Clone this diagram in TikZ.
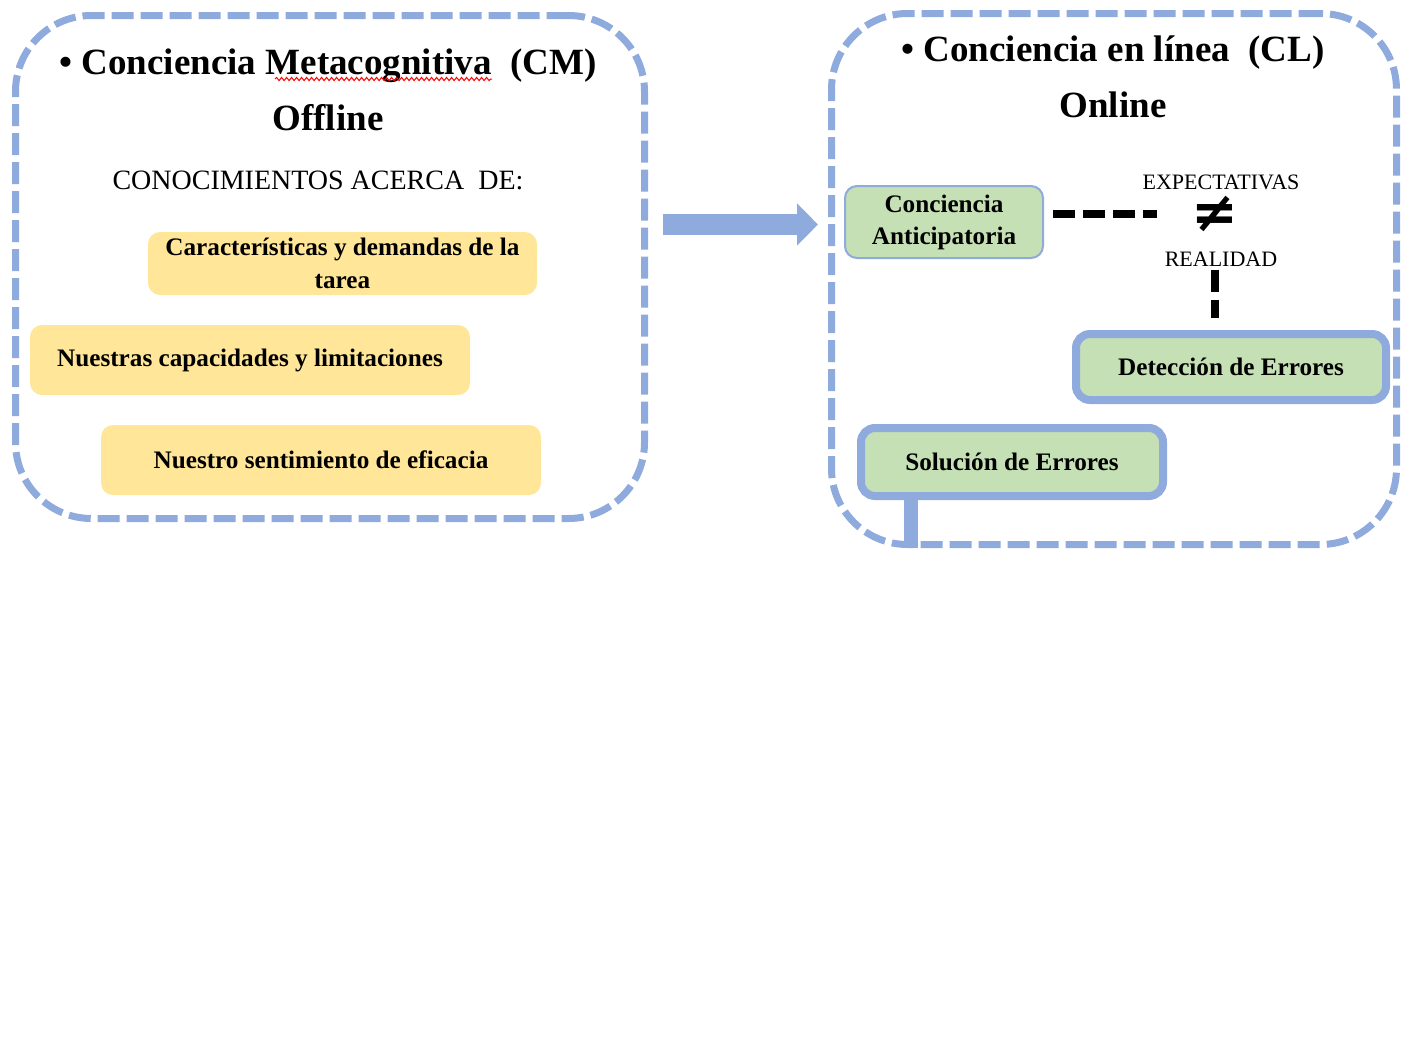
\documentclass[tikz,border=0pt]{standalone}
\usepackage{fontspec}
\setmainfont{Liberation Serif}
\newfontfamily\symbolFont{DejaVu Sans}
\usetikzlibrary{arrows.meta,decorations.pathmorphing}
\definecolor{boxBlue}{HTML}{8FAADC}
\definecolor{noteYellow}{HTML}{FFE699}
\definecolor{stageGreen}{HTML}{C5E0B4}
\newcommand{\titleFont}{\fontsize{18.5}{28}\selectfont\bfseries}
\newcommand{\boxFont}{\fontsize{12.6}{16.5}\selectfont\bfseries}
\newcommand{\capsFont}{\fontsize{14}{16}\selectfont}
\newcommand{\tagFont}{\fontsize{11}{12}\selectfont}
\newcommand{\frameLineWidth}{3.5pt}
\newcommand{\gapLineWidth}{4pt}

\begin{document}
\begin{tikzpicture}[x=0.5pt, y=-0.5pt,
  frame/.style={draw=boxBlue, line width=\frameLineWidth, dash pattern=on 11pt off 3.5pt,
    rounded corners=38pt, inner sep=0pt},
  note/.style={fill=noteYellow, rounded corners=6pt, font=\boxFont, align=center, inner sep=0pt},
  stage/.style={fill=stageGreen, draw=boxBlue, line width=4pt, rounded corners=7pt,
    font=\boxFont, align=center, inner sep=0pt},
  tag/.style={font=\tagFont, inner sep=0pt},
  gap/.style={draw=black, line width=\gapLineWidth, dash pattern=on 11pt off 4pt}]
\useasboundingbox (0,0) rectangle (1414,1044);

% offline side
\node[frame, minimum width=314.5pt, minimum height=251.5pt] (cm) at (330,267) {};
\node[font=\titleFont, align=center] (cmtitle) at (328,90)
  {\textbullet~Conciencia Metacognitiva~~(CM)\\Offline};
\draw[red, line width=0.5pt, decorate, decoration={snake, amplitude=0.8pt, segment length=2.5pt}]
  (275,79) -- (492,79);
\node[font=\capsFont] (acerca) at (318,180) {CONOCIMIENTOS ACERCA~~DE:};
\node[note, minimum width=194.5pt, minimum height=31.5pt] (tarea) at (342.5,263.5)
  {Características y demandas de la\\tarea};
\node[note, minimum width=220pt, minimum height=35pt] (capacidades) at (250,360)
  {Nuestras capacidades y limitaciones};
\node[note, minimum width=220pt, minimum height=35pt] (eficacia) at (321,460)
  {Nuestro sentimiento de eficacia};

% online side
\node[frame, minimum width=282.5pt, minimum height=265.5pt] (cl) at (1114,279) {};
\node[font=\titleFont, align=center] (cltitle) at (1113,77)
  {\textbullet~Conciencia en línea~~(CL)\\Online};
\node[stage, line width=1pt, rounded corners=6pt, minimum width=99pt, minimum height=36pt,
  font=\fontsize{12.6}{16}\selectfont\bfseries] (antic) at (944,222)
  {Conciencia\\Anticipatoria};
\node[tag] (expect) at (1221,182) {EXPECTATIVAS};
\node[font=\symbolFont\fontsize{28}{28}\selectfont\bfseries, inner sep=0pt] (neq) at (1215,214) {≠};
\node[tag] (realidad) at (1221,259) {REALIDAD};
\node[stage, minimum width=155pt, minimum height=33pt] (deteccion) at (1231,367)
  {Detección de Errores};
\node[stage, minimum width=151pt, minimum height=34pt] (solucion) at (1012,462)
  {Solución de Errores};

\coordinate (arrowStart) at (663,224.5);
\coordinate (arrowEnd) at (818,224.5);
\draw[-{Triangle[length=10.5pt,width=20.5pt]}, boxBlue, line width=10.5pt] (arrowStart) -- (arrowEnd);

\draw[gap, shorten <=4.5pt, shorten >=17pt] (neq.west -| antic.east) -- (neq.west);
\draw[gap, shorten <=1.5pt, shorten >=6pt] (neq |- realidad.south) -- (neq |- deteccion.north);
\draw[boxBlue, line width=7pt] ([xshift=27pt]solucion.south west) -- ([xshift=27pt]solucion.south west |- cl.south);
\end{tikzpicture}
\end{document}
